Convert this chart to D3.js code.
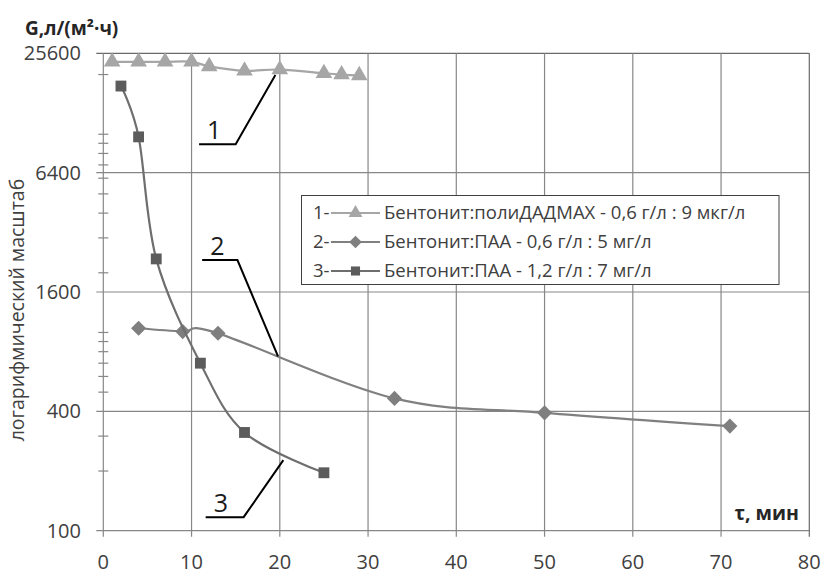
<!DOCTYPE html>
<html>
<head>
<meta charset="utf-8">
<script src="https://cdnjs.cloudflare.com/ajax/libs/d3/7.8.5/d3.min.js"></script>
<style>
  body { margin: 0; background: #fff; }
  text { font-family: "Open Sans", sans-serif; }
</style>
</head>
<body>
<svg width="821" height="575"></svg>
<script>
// series 1 - triangles
var t1 = [1, 4, 7, 10, 12, 16, 20, 25, 27, 29];
var g1 = [23200, 23200, 23200, 23200, 22000, 20900, 21200, 20300, 20000, 19800];
// series 2 - diamonds
var t2 = [4, 9, 13, 33, 50, 71];
var g2 = [1050, 1010, 990, 465, 393, 337];
// series 3 - squares
var t3 = [2, 4, 6, 11, 16, 25];
var g3 = [17500, 9700, 2350, 700, 313, 196];

var xTicks = [0, 10, 20, 30, 40, 50, 60, 70, 80];
var yTicks = [100, 400, 1600, 6400, 25600];
var yMinor = [200, 300, 500, 600, 700, 800, 900, 1000, 2000, 3000, 4000, 5000, 6000,
              7000, 8000, 9000, 10000, 20000];
var legendNames = ['Бентонит:полиДАДМАХ - 0,6 г/л : 9 мкг/л',
                   'Бентонит:ПАА - 0,6 г/л : 5 мг/л',
                   'Бентонит:ПАА - 1,2 г/л : 7 мг/л'];
// numbered callouts, points in data units (t, G)
var callouts = [
  { label: '1', pts: [[10.85, 8900], [15, 8900], [19.5, 19900]] },
  { label: '2', pts: [[11.2, 2320], [15.2, 2320], [19.8, 757]] },
  { label: '3', pts: [[11.6, 117], [15.9, 117], [20.4, 227]] }
];

var svg = d3.select('svg');
var plotL = 103.3, plotR = 809.3, plotT = 53.3, plotB = 530.7;
var grid = '#878787', txt = '#404040';

var x = d3.scaleLinear().domain([0, 80]).range([plotL, plotR]);
var y = d3.scaleLog().base(4).domain([100, 25600]).range([plotB, plotT]);

// horizontal gridlines
svg.append('g').selectAll('line').data(yTicks).enter().append('line')
    .attr('x1', plotL - 7).attr('x2', plotR)
    .attr('y1', d => y(d)).attr('y2', d => y(d))
    .attr('stroke', d => d === 25600 ? '#6a6a6a' : grid).attr('stroke-width', 1.2);

// vertical gridlines + tick marks
svg.append('g').selectAll('line').data(xTicks).enter().append('line')
    .attr('x1', d => x(d)).attr('x2', d => x(d))
    .attr('y1', plotT).attr('y2', plotB + 6)
    .attr('stroke', d => d === 80 ? '#6a6a6a' : grid).attr('stroke-width', 1.2);

// minor log ticks
svg.append('g').selectAll('line').data(yMinor).enter().append('line')
    .attr('x1', plotL - 5).attr('x2', plotL + 5)
    .attr('y1', d => y(d)).attr('y2', d => y(d))
    .attr('stroke', grid).attr('stroke-width', 1.2);

// tick labels
svg.append('g').selectAll('text').data(yTicks).enter().append('text')
    .attr('x', 81).attr('y', d => y(d)).attr('dy', '0.35em')
    .attr('text-anchor', 'end').attr('font-size', '20px').attr('fill', txt)
    .text(d => d);
svg.append('g').selectAll('text').data(xTicks).enter().append('text')
    .attr('x', d => x(d)).attr('y', 569)
    .attr('text-anchor', 'middle').attr('font-size', '20px').attr('fill', txt)
    .text(d => d);

// axis titles
svg.append('text').attr('x', 25).attr('y', 35)
    .attr('font-size', '19px').attr('font-weight', 'bold').attr('fill', '#262626')
    .text('G,л/(м²·ч)');
svg.append('text').attr('x', 799).attr('y', 520).attr('text-anchor', 'end')
    .attr('font-size', '19.5px').attr('font-weight', 'bold').attr('fill', '#262626')
    .text('τ, мин');
svg.append('text').attr('transform', 'translate(24,310) rotate(-90)')
    .attr('text-anchor', 'middle').attr('font-size', '19.5px').attr('fill', txt)
    .text('логарифмический масштаб');

var curve = d3.curveCardinal.tension(0);
function lineFor(ts, gs) {
    return d3.line().curve(curve)(ts.map((t, i) => [x(t), y(gs[i])]));
}

var series = [
  { t: t1, g: g1, line: '#a6a6a6', fill: '#a6a6a6', mark: d3.symbolTriangle, size: 120 },
  { t: t2, g: g2, line: '#808080', fill: '#7f7f7f', mark: d3.symbolDiamond2, size: 145 },
  { t: t3, g: g3, line: '#6e6e6e', fill: '#5c5c5c', mark: d3.symbolSquare2, size: 150 }
];

series.forEach(s => {
    svg.append('path').attr('d', lineFor(s.t, s.g))
        .attr('fill', 'none').attr('stroke', s.line).attr('stroke-width', 2.2);
    svg.append('g').selectAll('path').data(s.t).enter().append('path')
        .attr('d', d3.symbol().type(s.mark).size(s.size))
        .attr('transform', (t, i) => 'translate(' + x(t) + ',' + y(s.g[i]) + ')')
        .attr('fill', s.fill);
});

// callouts
callouts.forEach(c => {
    var p = c.pts.map(d => [x(d[0]), y(d[1])]);
    svg.append('path').attr('d', d3.line()(p))
        .attr('fill', 'none').attr('stroke', '#000').attr('stroke-width', 2);
    svg.append('text').attr('x', p[0][0] + 8).attr('y', p[0][1] - 5)
        .attr('font-size', '25px').attr('fill', '#1a1a1a').text(c.label);
});

// legend
var lg = svg.append('g');
lg.append('rect').attr('x', 301.5).attr('y', 195.5).attr('width', 477.5).attr('height', 89)
    .attr('fill', '#fff').attr('stroke', '#404040').attr('stroke-width', 1);
series.forEach((s, i) => {
    var ry = 213 + i * 29;
    lg.append('text').attr('x', 313).attr('y', ry).attr('dy', '0.35em')
        .attr('font-size', '18.5px').attr('fill', txt).text((i + 1) + '-');
    lg.append('line').attr('x1', 331).attr('x2', 380).attr('y1', ry).attr('y2', ry)
        .attr('stroke', s.line).attr('stroke-width', 2.2);
    lg.append('path').attr('d', d3.symbol().type(s.mark).size(s.size * 0.7))
        .attr('transform', 'translate(355.5,' + ry + ')').attr('fill', s.fill);
    lg.append('text').attr('x', 384).attr('y', ry).attr('dy', '0.35em')
        .attr('font-size', '18.5px').attr('fill', txt).text(legendNames[i]);
});
</script>
</body>
</html>
